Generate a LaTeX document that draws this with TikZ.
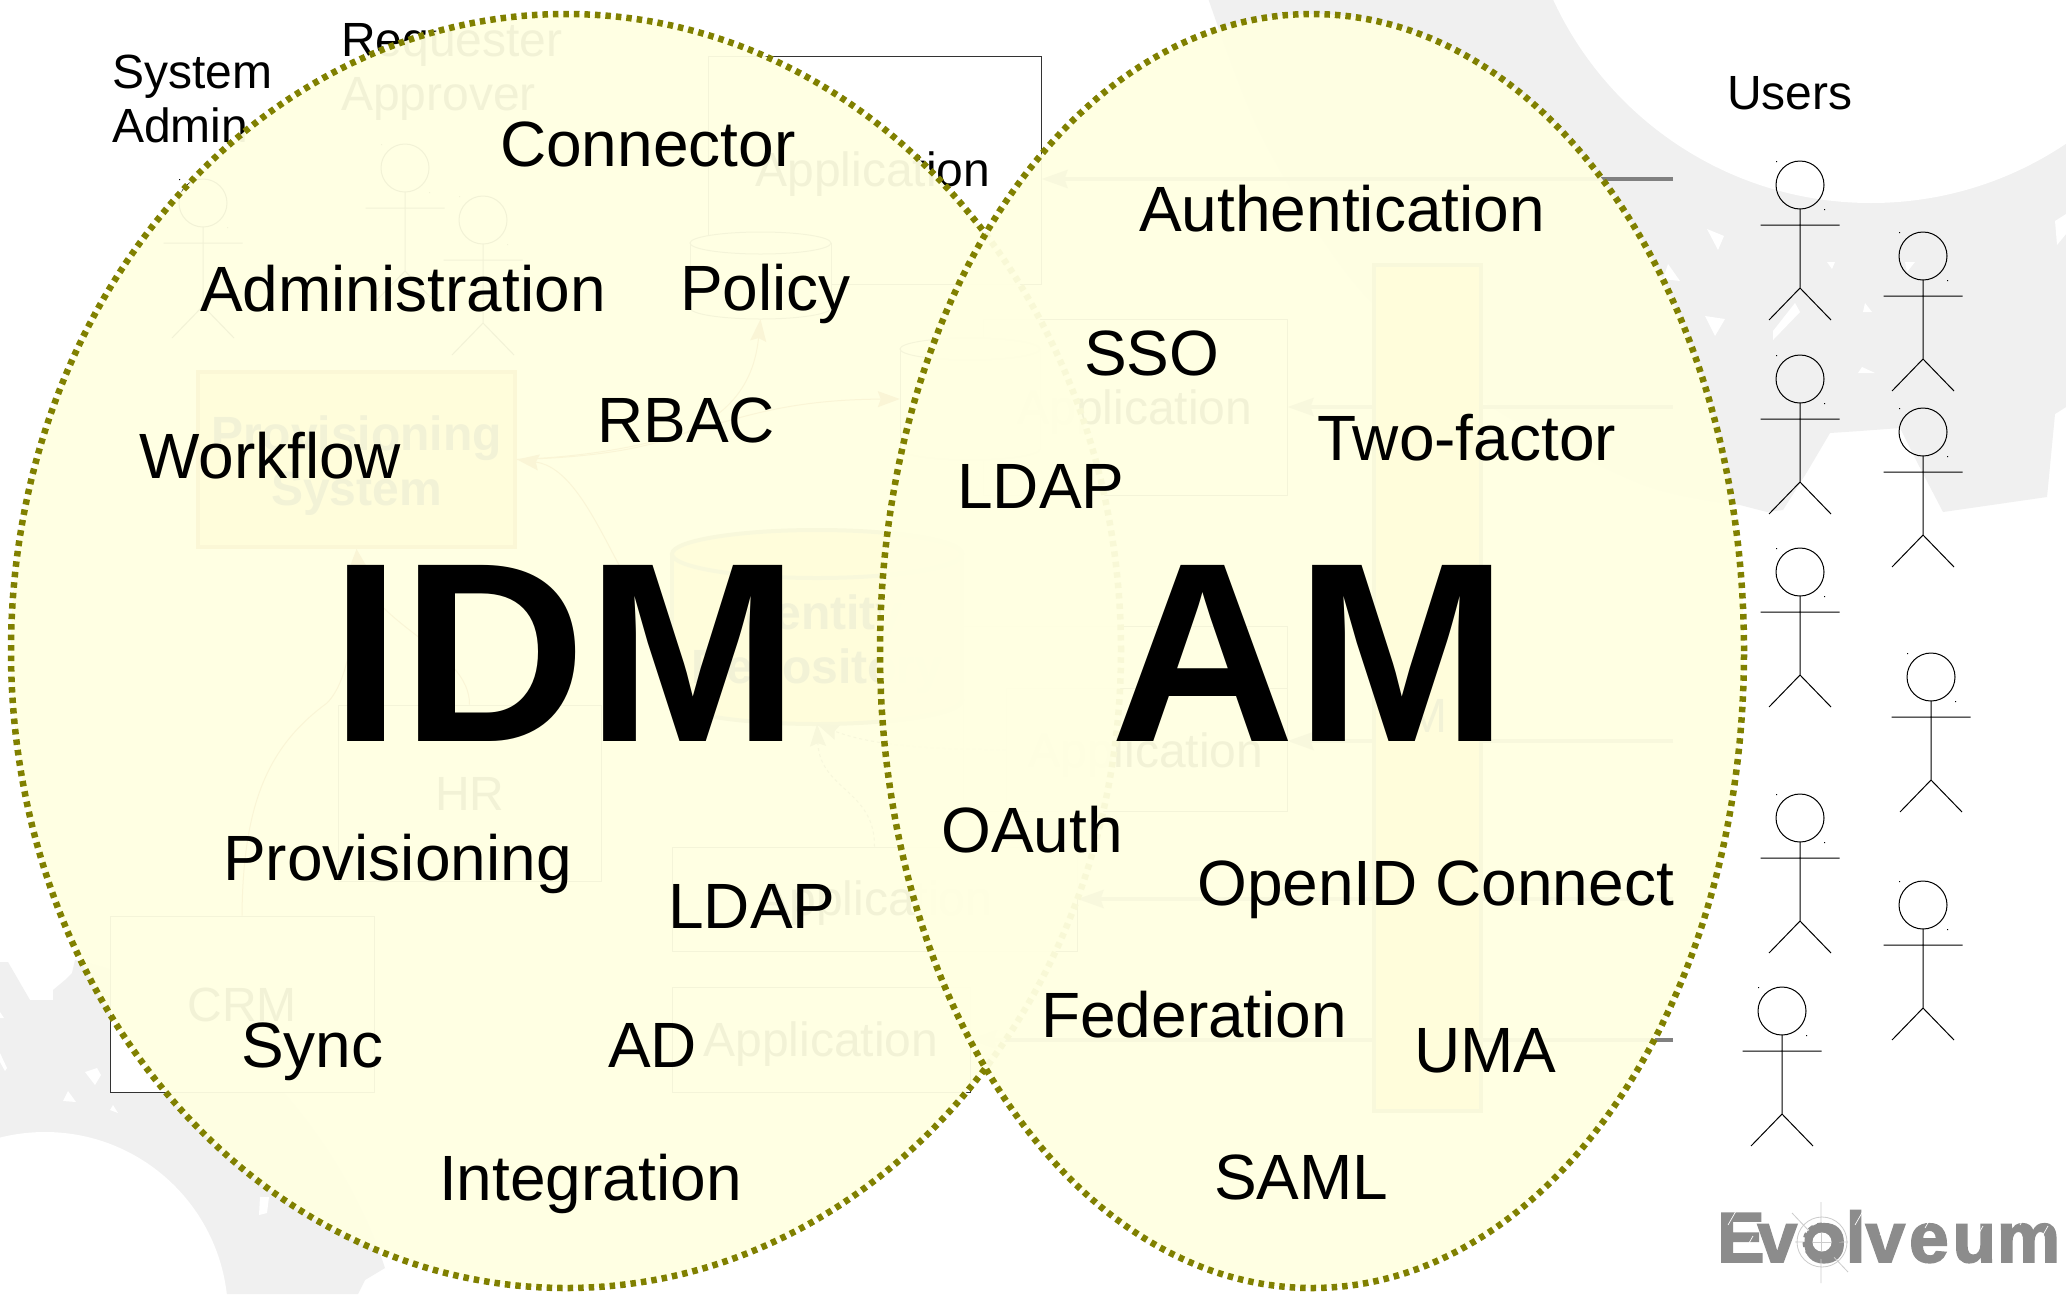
\documentclass[tikz,border=0pt]{standalone}
\usepackage{fontspec}
\setmainfont{Liberation Sans}
\newfontfamily\logofont[BoldFeatures={FakeBold=2.5}]{Liberation Sans}
\usetikzlibrary{arrows.meta,shapes.geometric}
\definecolor{gearc}{HTML}{F0F0F0}
\definecolor{olivec}{HTML}{808000}
\definecolor{zonec}{HTML}{FFFFE2}
\definecolor{boxfill}{HTML}{FFD860}
\definecolor{provline}{HTML}{B46504}
\definecolor{repoline}{HTML}{808060}
\definecolor{linkc}{HTML}{A04000}
\definecolor{logoc}{HTML}{8C8C8C}
\tikzset{
  basetext/.style={anchor=base west,inner sep=0pt,text=black,font=\fontsize{48}{50}\selectfont},
  boldtext/.style={anchor=base,inner sep=0pt,text=black,font=\fontsize{48}{50}\selectfont\bfseries},
  midtext/.style={anchor=base,inner sep=0pt,text=black,font=\fontsize{48}{50}\selectfont},
  toptext/.style={anchor=base west,inner sep=0pt,text=black,font=\fontsize{64}{66}\selectfont},
  hugetext/.style={anchor=base west,inner sep=0pt,text=black,font=\fontsize{256}{256}\selectfont\bfseries},
  appbox/.style={draw=black!80,fill=white,line width=1pt,inner sep=0pt},
  yellowbox/.style={draw=repoline,fill=boxfill,line width=4pt,inner sep=0pt},
  provbox/.style={draw=provline,fill=boxfill,line width=4pt,inner sep=0pt},
  hook/.style={inner sep=0pt},
  zone/.style={ellipse,inner sep=0pt,draw=olivec,fill=zonec,fill opacity=.95,line width=6.5pt,dash pattern=on 5.5pt off 5pt},
  thinlink/.style={draw=linkc,line width=1pt,-{Stealth[length=22pt,width=16pt,inset=3pt,fill=linkc]}},
  dashlink/.style={draw=black!60,line width=1pt,dashed,-{Stealth[length=22pt,width=16pt,inset=3pt,fill=black!60,sep=0pt]}},
  greylink/.style={draw=black!50,line width=4pt,-{Stealth[length=26pt,width=18pt,inset=3pt,fill=black!50]}},
  figure/.pic={
    \draw[line width=1pt] (0,24) ellipse [x radius=24pt,y radius=24pt];
    \draw[line width=1pt] (0,48) -- (0,127) (-39.5,64) -- (39.5,64) (-31,159) -- (0,127) -- (31,159);
    \fill (-24,0) rectangle (-23,1) (24,48) rectangle (25,49);
  }
}
\newcommand\mycyl[7]{%
  \node[hook,minimum width=2*#5pt,minimum height=#4pt-#3pt] (#1) at (#2,{(#3+#4)/2}) {};
  \path[#7] (#2,{#4-#6}) ellipse [x radius=#5pt,y radius=#6pt];
  \fill[#7,draw=none] ({#2-#5},{#3+#6}) rectangle ({#2+#5},{#4-#6});
  \path[#7,fill=none] ({#2-#5},{#3+#6}) -- ({#2-#5},{#4-#6}) ({#2+#5},{#3+#6}) -- ({#2+#5},{#4-#6});
  \path[#7] (#2,{#3+#6}) ellipse [x radius=#5pt,y radius=#6pt];
}
\begin{document}
\begin{tikzpicture}[x=1pt,y=-1pt]
\useasboundingbox (0,0) rectangle (2066,1294);
\clip (0,0) rectangle (2066,1294);
\fill[white] (0,0) rectangle (2066,1294);
% ---- gear watermark top right
\fill[gearc] plot[smooth] coordinates {(1207,-5) (1262,137) (1356,285) (1486,403) (1641,484) (1740,505)}
  -- (1767,512) -- (1783,510) -- (1807,472) -- (1830,433) -- (1860,431) -- (1900,428) -- (1917,462) -- (1943,512)
  -- (2047,497) -- (2055,414) -- (2066,407) -- (2066,-5) -- cycle;
\fill[white] (1871,-147) circle [radius=350pt];
\fill[white] (1707,229) -- (1724,236) -- (1718,250) -- cycle
  (1668,264) -- (1680,281) -- (1663,279) -- cycle
  (1705,316) -- (1725,319) -- (1715,336) -- cycle
  (1827,262) -- (1835,262) -- (1832,269) -- cycle
  (1905,262) -- (1915,262) -- (1907,272) -- cycle
  (1865,303) -- (1872,312) -- (1863,312) -- cycle
  (1862,367) -- (1875,373) -- (1858,373) -- cycle
  (1773,331) -- (1795,303) -- (1800,312) -- (1773,340) -- cycle
  (2055,221) -- (2066,214) -- (2066,234) -- (2057,245) -- cycle;
% ---- gear watermark bottom left
\fill[gearc] (0,962) -- (8,962) -- (30,1000) -- (53,1000) -- (53,990) -- (65,980) -- (72,973) -- (75,960)
  .. controls (200,985) and (330,1110) .. (383,1262) -- (385,1268) -- (365,1280) -- (358,1294) -- (0,1294) -- cycle;
\fill[white] (45,1315) circle [radius=183pt];
\fill[white] (85,1072) -- (97,1068) -- (101,1075) -- (95,1085) -- cycle
  (68,1091) -- (76,1102) -- (63,1101) -- cycle
  (113,1105) -- (118,1113) -- (110,1110) -- cycle
  (0,1053) -- (7,1068) -- (5,1071) -- (0,1062) -- cycle
  (0,1012) -- (4,1018) -- (0,1018) -- cycle
  (260,1197) -- (269,1197) -- (267,1213) -- (259,1215) -- cycle;
% ---- base diagram
\node[appbox,minimum width=333pt,minimum height=228pt] (appA) at (874.5,170) {};
\node[appbox,minimum width=304pt,minimum height=176pt] (appB) at (1135,407) {};
\node[appbox,minimum width=324pt,minimum height=185pt] (appOuter) at (1125,718.5) {};
\node[appbox,minimum width=281pt,minimum height=123pt] (appC) at (1146.5,749.5) {};
\node[appbox,minimum width=405pt,minimum height=104pt] (appD) at (874.5,899) {};
\node[appbox,minimum width=298pt,minimum height=105pt] (appE) at (821,1039.5) {};
\node[appbox,minimum width=263pt,minimum height=176pt] (hr) at (469.5,793) {};
\node[appbox,minimum width=264pt,minimum height=176pt] (crm) at (242,1004) {};
\node[provbox,minimum width=317pt,minimum height=175pt] (prov) at (356.5,459.5) {};
\mycyl{policy}{760.5}{232}{319}{70.5}{11}{draw=black!80,fill=white,line width=1pt}
\mycyl{ldapc}{970}{338}{460}{70}{11}{draw=black!80,fill=white,line width=1pt}
\mycyl{repo}{817}{530}{724}{145}{24}{draw=repoline,fill=boxfill,line width=4pt}
% grey request lines
\coordinate (srcA) at (1673,179);
\coordinate (srcB) at (1673,407);
\coordinate (srcC) at (1673,741);
\coordinate (srcD) at (1673,899);
\coordinate (srcE) at (1673,1039.5);
\draw[greylink] (srcA) -- (srcA -| appA.east);
\draw[greylink] (srcB) -- (appB.east);
\draw[greylink] (srcC) -- (srcC -| appC.east);
\draw[greylink] (srcD) -- (appD.east);
\draw[greylink] (srcE) -- (appE.east);
\node[yellowbox,minimum width=107pt,minimum height=846pt] (tall) at (1427.5,688) {};
% thin links
\draw[thinlink] (prov.east) .. controls (680,455) and (750,420) .. (policy.south);
\draw[thinlink] (prov.east) .. controls (700,452) and (720,400) .. (ldapc.west);
\draw[thinlink] (repo.west) .. controls (625,620) and (595,470) .. (prov.east);
\draw[thinlink] (hr.north) .. controls (470,650) and (370,625) .. (prov.south);
\coordinate (crmbend) at (327,703);
\draw[draw=linkc,line width=1pt] (crm.north) .. controls (243,800) and (270,745) .. (crmbend);
\draw[thinlink] (crmbend) .. controls (350,680) and (356,620) .. (prov.south);
\draw[dashlink] (appD.north) .. controls (875,790) and (820,790) .. (repo.south);
\draw[dashlink] (appC.west) .. controls (930,750) and (870,745) .. (repo.south);
% base labels
\node[basetext] (lblSys) at (112,88) {System};
\node[basetext] (lblAdm) at (112,142) {Admin};
\node[basetext] (lblReq) at (341,56) {Requester};
\node[basetext] (lblApr) at (341,110) {Approver};
\node[midtext] (lblA) at (873,186) {Application};
\node[midtext] (lblB) at (1135,424) {Application};
\node[midtext] (lblC) at (1146,767) {Application};
\node[midtext] (lblD) at (875,915) {Application};
\node[midtext] (lblE) at (821,1056) {Application};
\node[midtext] (lblHR) at (470,810) {HR};
\node[midtext] (lblCRM) at (242,1021) {CRM};
\node[midtext] (lblM) at (1427,732) {M};
\node[boldtext] (lblP1) at (356.5,450) {Provisioning};
\node[boldtext] (lblP2) at (356.5,505) {System};
\node[boldtext] (lblR1) at (817,629) {Identity};
\node[boldtext] (lblR2) at (817,683) {Repository};
\node[basetext] (lblUsers) at (1727,109) {Users};
% actors
\foreach \x/\y in {203/179,405/144,483/196,1800/161,1923/232,1800/355,1923/408,1800/548,1931/653,1800/794,1923/881,1782/987}
  \pic at (\x,\y) {figure};
% zones
\node[zone,minimum width=1110pt,minimum height=1274pt] (idm) at (566,651) {};
\node[zone,minimum width=864pt,minimum height=1274pt] (am) at (1312,651) {};
% top labels
\node[hugetext] (tIDM) at (330,741) {IDM};
\node[hugetext] (tAM) at (1110,741) {AM};
\node[toptext] (t1) at (500,166) {Connector};
\node[toptext] (t2) at (200,311) {Administration};
\node[toptext] (t3) at (680,310) {Policy};
\node[toptext] (t4) at (597,442) {RBAC};
\node[toptext] (t5) at (139,478) {Workflow};
\node[toptext] (t6) at (223,880) {Provisioning};
\node[toptext] (t7) at (668,928) {LDAP};
\node[toptext] (t8) at (241,1067) {Sync};
\node[toptext] (t9) at (608,1067) {AD};
\node[toptext] (t10) at (439,1200) {Integration};
\node[toptext] (t11) at (1139,231) {Authentication};
\node[toptext] (t12) at (1084,375) {SSO};
\node[toptext] (t13) at (1317,460) {Two-factor};
\node[toptext] (t14) at (957,508) {LDAP};
\node[toptext] (t15) at (941,852) {OAuth};
\node[toptext] (t16) at (1197,905) {OpenID Connect};
\node[toptext] (t17) at (1041,1037) {Federation};
\node[toptext] (t18) at (1414,1072) {UMA};
\node[toptext] (t19) at (1214,1199) {SAML};
% logo
\node[anchor=base west,inner sep=0pt,text=logoc,font=\fontsize{71}{71}\selectfont\logofont\bfseries] (logo) at (1717,1262)
  {E\kern-7ptv\kern5.5pto\kern0ptlv\kern4pte\kern4ptu\kern1ptm};
\coordinate (gearc0) at (1822,1242);
\draw[black!20,line width=.8pt] (1821,1202) -- (1821,1283) (1792,1213) -- (1848,1272) (1795,1242) -- (1848,1242)
  (gearc0) circle [radius=25pt];
\draw[logoc,line width=8pt] (gearc0) circle [radius=13pt];
\draw[logoc,line width=5pt,dash pattern=on 4.45pt off 4.45pt] (gearc0) circle [radius=17pt];
\fill[white] (gearc0) circle [radius=9.5pt];
\draw[black!20,line width=.8pt] (1813,1242) -- (1831,1242) (1821,1233) -- (1821,1251);
\foreach \a/\b in {1728/1225,1745/1250,1775/1225,1855/1225,1880/1235,1925/1228,1975/1240,2020/1225,2040/1240}
  \draw[white,line width=.7pt] (\a,\b) -- +(8,-14);
\end{tikzpicture}
\end{document}
